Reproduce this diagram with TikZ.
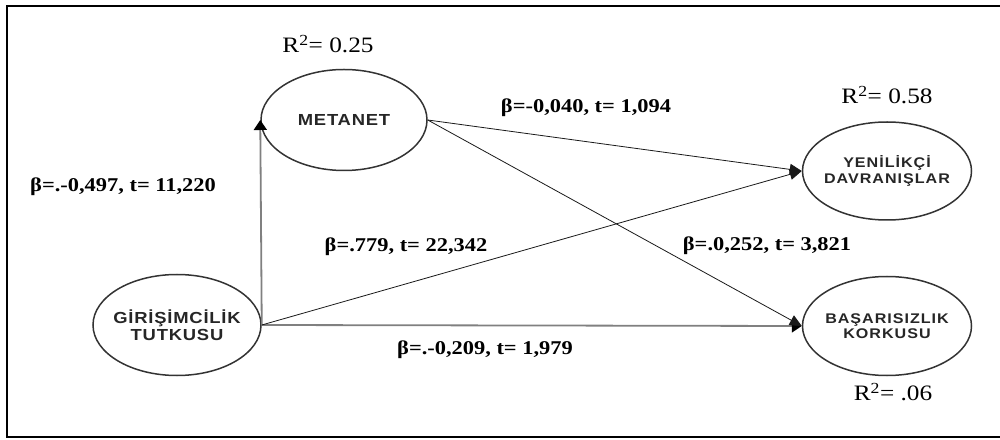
\documentclass[tikz,border=0pt]{standalone}
\usepackage{fontspec}
\setmainfont{Liberation Serif}
\newfontfamily\labfont[FakeStretch=1.15]{Liberation Serif}
\newfontfamily\nodefont[FakeStretch=1.15,LetterSpace=5]{Liberation Sans}
\newfontfamily\nodefontb[FakeStretch=1.15,LetterSpace=7]{Liberation Sans}
\usetikzlibrary{shapes.geometric,arrows.meta}
\begin{document}
\begin{tikzpicture}[x=1pt,y=1pt,
  latent/.style={ellipse,draw=black!80,line width=1.5pt,inner sep=0pt},
  bigtxt/.style={font=\nodefont\bfseries\fontsize{16}{17}\selectfont,align=center,text=black!85,inner sep=0pt},
  smalltxt/.style={font=\nodefontb\bfseries\fontsize{14}{15.5}\selectfont,align=center,text=black!85,inner sep=0pt},
  coef/.style={font=\labfont\bfseries\fontsize{19.5}{22}\selectfont,inner sep=0pt},
  rsq/.style={font=\labfont\fontsize{22}{24}\selectfont,inner sep=0pt},
  paththin/.style={draw=black!90,line width=0.8pt,-{Triangle[length=12pt,width=11pt]}},
  pathgray/.style={draw=black!50,line width=1.8pt,-{Triangle[length=10pt,width=13pt,color=black]}}
]
\useasboundingbox (0,0) rectangle (1000,439);
% frame (right side lies outside the picture)
\draw[line width=1.5pt] (1000,433) -- (7,433) -- (7,2) -- (1000,2);

% latent variables
\node[latent,minimum width=166pt,minimum height=101pt,
  label={[bigtxt]center:METANET}] (MET) at (344,319) {};
\node[latent,minimum width=168pt,minimum height=101pt,
  label={[bigtxt]center:GİRİŞİMCİLİK\\TUTKUSU}] (GIR) at (177,114) {};
\node[latent,minimum width=169pt,minimum height=98pt,
  label={[smalltxt]center:YENİLİKÇİ\\DAVRANIŞLAR}] (YEN) at (887,268) {};
\node[latent,minimum width=169pt,minimum height=99pt,
  label={[smalltxt]center:BAŞARISIZLIK\\KORKUSU}] (BAS) at (887,113) {};

% paths
\draw[pathgray] (GIR.east) -- (MET.west);
\draw[pathgray] (GIR.east) -- (BAS.west);
\draw[paththin] (GIR.east) -- (YEN.west);
\draw[paththin] (MET.east) -- (YEN.west);
\draw[paththin] (MET.east) -- (BAS.west);

% R squared
\node[rsq] (r1) at (328,395) {R\textsuperscript{2}= 0.25};
\node[rsq] (r2) at (887,344) {R\textsuperscript{2}= 0.58};
\node[rsq] (r3) at (893,47) {R\textsuperscript{2}= .06};

% coefficients
\node[coef] (c1) at (123,252) {β=.-0,497, t= 11,220};
\node[coef] (c2) at (586,331) {β=-0,040, t= 1,094};
\node[coef] (c3) at (406,192) {β=.779, t= 22,342};
\node[coef] (c4) at (767,193) {β=.0,252, t= 3,821};
\node[coef] (c5) at (485,89) {β=.-0,209, t= 1,979};
\end{tikzpicture}
\end{document}
